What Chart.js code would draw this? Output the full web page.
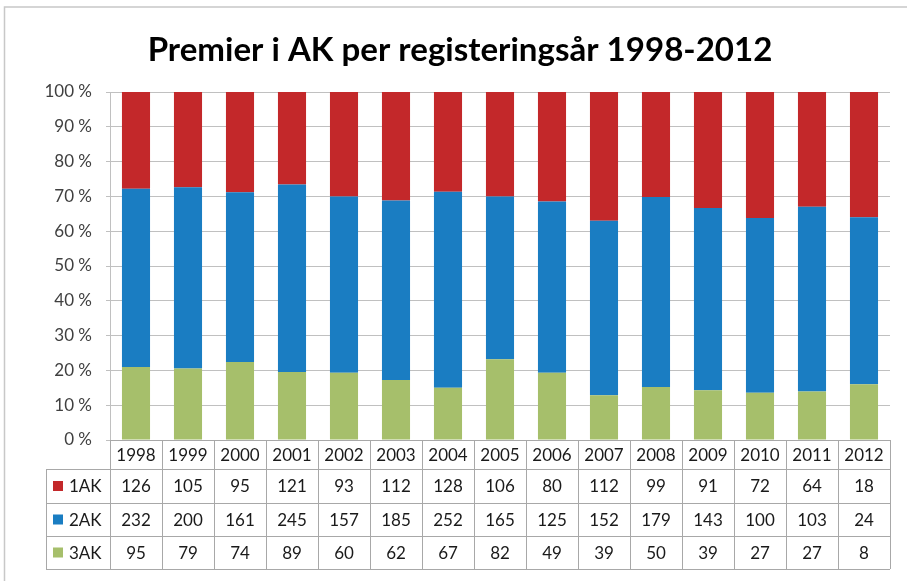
<!DOCTYPE html>
<html><head><meta charset="utf-8">
<script src="https://cdn.jsdelivr.net/npm/chart.js@4.4.1/dist/chart.umd.min.js"></script>
<style>html,body{margin:0;padding:0;background:#fff;}#wrap{width:907px;height:581px;position:relative;}</style>
</head><body><div id="wrap"><canvas id="c" width="907" height="581"></canvas></div>
<script>
const titleText = "Premier i AK per registeringsår 1998-2012";
const years = ["1998","1999","2000","2001","2002","2003","2004","2005","2006","2007","2008","2009","2010","2011","2012"];
const ak1 = [126,105,95,121,93,112,128,106,80,112,99,91,72,64,18];
const ak2 = [232,200,161,245,157,185,252,165,125,152,179,143,100,103,24];
const ak3 = [95,79,74,89,60,62,67,82,49,39,50,39,27,27,8];
const seriesNames = ["1AK","2AK","3AK"];
const colors = {"1AK":"#C3282A","2AK":"#1A7DC2","3AK":"#A6BF6B"};
const yTicks = [0,10,20,30,40,50,60,70,80,90,100];

const totals = years.map((_,i)=>ak1[i]+ak2[i]+ak3[i]);
const pct = arr => arr.map((v,i)=>v/totals[i]*100);
const rows = {"1AK":ak1,"2AK":ak2,"3AK":ak3};
const FONT = "Lato, 'Open Sans', sans-serif";

const frame = {
  id:'frame',
  beforeDraw(chart){
    const ctx=chart.ctx; ctx.save();
    ctx.strokeStyle="#C8C8C8"; ctx.lineWidth=1.5;
    ctx.beginPath(); ctx.moveTo(4.5,581); ctx.lineTo(4.5,7); ctx.lineTo(907,7); ctx.stroke();
    // title
    ctx.fillStyle="#000"; ctx.textAlign="center"; ctx.textBaseline="alphabetic";
    let fs=30; ctx.font="bold "+fs+"px "+FONT;
    const w=ctx.measureText(titleText).width; fs=fs*625/w;
    ctx.font="bold "+fs+"px "+FONT;
    ctx.fillText(titleText,460,61);
    ctx.restore();
  }
};

const table = {
  id:'table',
  afterDraw(chart){
    const ctx=chart.ctx, x=chart.scales.x, a=chart.chartArea;
    const n=years.length;
    const half=(x.getPixelForValue(1)-x.getPixelForValue(0))/2;
    const L=x.getPixelForValue(0)-half, R=x.getPixelForValue(n-1)+half;
    const top=a.bottom, hb=top+29, rb=[hb,hb+34,hb+67,hb+100];
    const legL=46;
    ctx.save();
    ctx.strokeStyle="#A8A8A8"; ctx.lineWidth=1;
    ctx.beginPath();
    ctx.moveTo(L,top+0.5); ctx.lineTo(R,top+0.5);
    rb.forEach(y=>{ctx.moveTo(legL,y+0.5);ctx.lineTo(R,y+0.5);});
    for(let i=0;i<=n;i++){
      const px=Math.round(x.getPixelForValue(i)-half)+0.5;
      ctx.moveTo(px,top); ctx.lineTo(px,rb[3]);
    }
    ctx.moveTo(legL+0.5,hb); ctx.lineTo(legL+0.5,rb[3]);
    ctx.stroke();
    ctx.fillStyle="#1a1a1a"; ctx.font="17px "+FONT; ctx.textAlign="center"; ctx.textBaseline="middle";
    years.forEach((yv,i)=>ctx.fillText(yv,x.getPixelForValue(i),(top+hb)/2+1));
    seriesNames.forEach((s,r)=>{
      const cy=(rb[r]+rb[r+1])/2+1;
      ctx.fillStyle=colors[s]; ctx.fillRect(53,cy-6,10,10);
      ctx.fillStyle="#1a1a1a"; ctx.textAlign="left"; ctx.fillText(s,69,cy);
      ctx.textAlign="center";
      rows[s].forEach((v,i)=>ctx.fillText(String(v),x.getPixelForValue(i),cy));
    });
    ctx.restore();
  }
};

new Chart(document.getElementById('c'),{
  type:'bar',
  data:{labels:years,datasets:[
    {label:"3AK",data:pct(ak3),backgroundColor:colors["3AK"]},
    {label:"2AK",data:pct(ak2),backgroundColor:colors["2AK"]},
    {label:"1AK",data:pct(ak1),backgroundColor:colors["1AK"]}
  ]},
  options:{
    responsive:false,animation:false,
    layout:{padding:{top:92,bottom:141,right:17,left:0}},
    plugins:{legend:{display:false},title:{display:false},tooltip:{enabled:false}},
    datasets:{bar:{barPercentage:0.54,categoryPercentage:1,borderWidth:0}},
    scales:{
      x:{stacked:true,display:false},
      y:{stacked:true,min:0,max:100,
        afterFit(s){s.width=110;},
        afterBuildTicks(s){s.ticks=yTicks.map(v=>({value:v}));},
        ticks:{callback:v=>v+" %",color:"#404040",font:{family:FONT,size:17},padding:14},
        grid:{color:"#C0C0C0",tickLength:4,lineWidth:1},
        border:{display:true,color:"#C0C0C0"}
      }
    }
  },
  plugins:[frame,table]
});
</script></body></html>
